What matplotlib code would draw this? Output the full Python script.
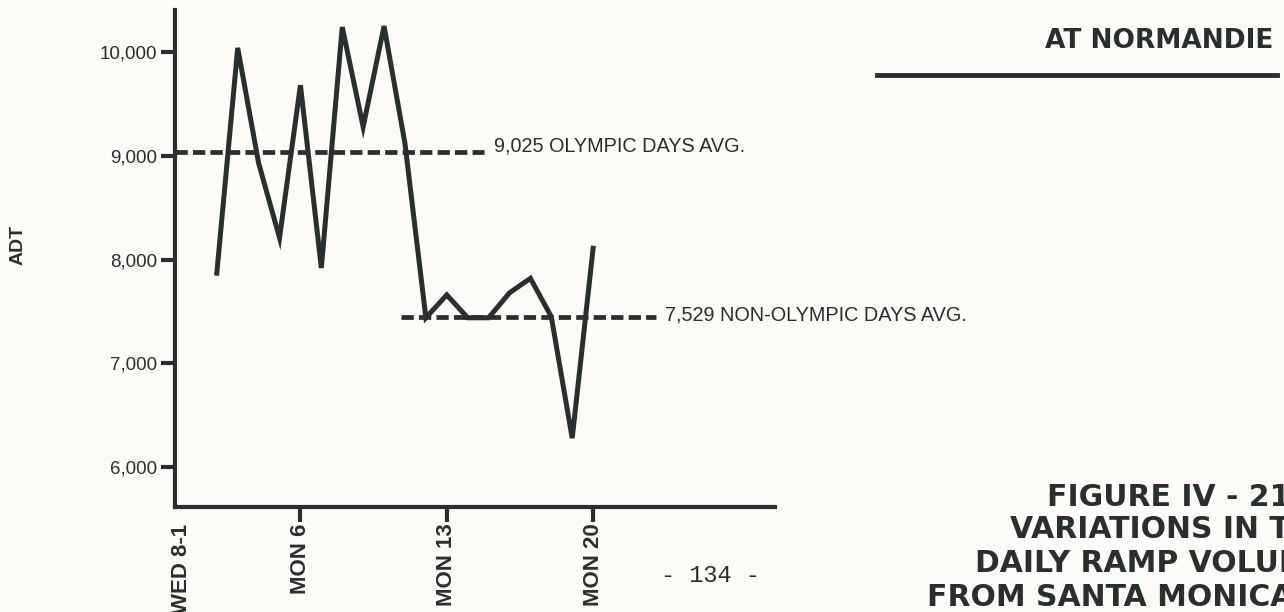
import numpy as np
import matplotlib.pyplot as plt

plt.rcParams['font.family'] = ['Liberation Sans', 'DejaVu Sans']

# daily ADT, day of month (August 1984)
days = [2, 3, 4, 5, 6, 7, 8, 9, 10, 11, 12, 13, 14, 15, 16, 17, 18, 19, 20]
adt = [7870, 10040, 8930, 8210, 9680, 7920, 10240, 9280, 10250, 9120,
       7440, 7660, 7440, 7440, 7680, 7820, 7450, 6280, 8110]

# average lines: level as drawn, span in days, label
avg_levels = [9035, 7445]
avg_spans = [(0, 14.8), (10.8, 23.0)]
avg_labels = ["9,025 OLYMPIC DAYS AVG.", "7,529 NON-OLYMPIC DAYS AVG."]
label_lift = [60, 20]

tick_days = [0.3, 6, 13, 20]
tick_labels = ["WED 8-1", "MON 6", "MON 13", "MON 20"]
y_ticks = [6000, 7000, 8000, 9000, 10000]

ink = '#27302f'
paper = '#fcfbf6'

fig = plt.figure(figsize=(12.84, 6.12), dpi=100, facecolor=paper)
ax = fig.add_axes([175/1284, 105/612, 600/1284, 497/612])
ax.set_facecolor(paper)

ax.plot(days, adt, color=ink, lw=3.6, solid_joinstyle='miter')

# dashed average lines with their labels
for lvl, (x0, x1), lab, lift in zip(avg_levels, avg_spans, avg_labels, label_lift):
    ax.plot([x0, x1], [lvl, lvl], color=ink, lw=3.4, ls=(0, (2.6, 1.1)))
    ax.text(x1 + 0.45, lvl + lift, lab, color=ink, fontsize=14.3, va='center', ha='left')

ax.set_xlim(0, 28.7)
ax.set_ylim(5617, 10405)

ax.spines['top'].set_visible(False)
ax.spines['right'].set_visible(False)
for s in ['left', 'bottom']:
    ax.spines[s].set_linewidth(3)
    ax.spines[s].set_color(ink)

ax.set_yticks(y_ticks)
ax.set_yticklabels([f"{v:,}" for v in y_ticks], fontsize=13.5, color=ink)
ax.set_xticks(tick_days)
ax.set_xticklabels(tick_labels, rotation=90, fontsize=16, fontweight='bold', color=ink)
ax.tick_params(axis='y', length=10, width=3, color=ink, pad=3)
ax.tick_params(axis='x', length=11, width=3, color=ink, pad=1)
ax.get_xticklines()[0].set_visible(False)

fig.text(18/1284, 1 - 245/612, "ADT", rotation=90, fontsize=14, fontweight='bold',
         color=ink, ha='center', va='center')

# page text to the right
fig.text(1273/1284, 1 - 41/612, "AT NORMANDIE", fontsize=19, fontweight='bold',
         family='DejaVu Sans', color=ink, ha='right', va='center')
fig.add_artist(plt.Line2D([877/1284, 1277/1284], [1 - 75/612, 1 - 75/612],
                          color=ink, lw=3.5))

title_lines = ["FIGURE IV - 21", "VARIATIONS IN TOTAL", "DAILY RAMP VOLUMES",
               "FROM SANTA MONICA FREEWAY"]
title_x = [1047, 1010, 975, 927]
title_y = [497, 530, 564, 598]
for t, x, y in zip(title_lines, title_x, title_y):
    fig.text(x/1284, 1 - y/612, t, fontsize=21.5, fontweight='bold', family='DejaVu Sans',
             color=ink, ha='left', va='center')

fig.text(710/1284, 1 - 575/612, "- 134 -", fontsize=17, color=ink,
         family='Liberation Mono', ha='center', va='center')

fig.savefig("out.png", dpi=100, facecolor=paper)
